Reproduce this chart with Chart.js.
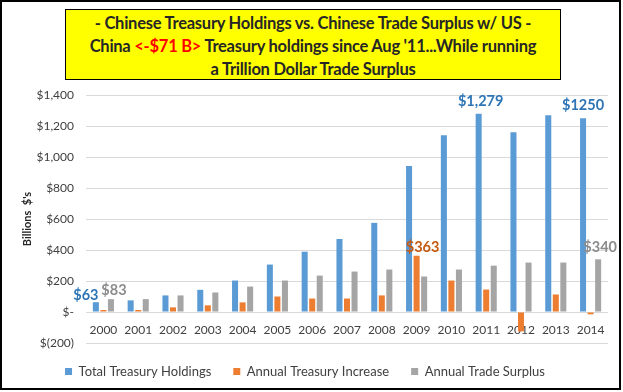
<!DOCTYPE html>
<html>
<head>
<meta charset="utf-8">
<script src="https://cdn.jsdelivr.net/npm/chart.js@4.4.1/dist/chart.umd.min.js"></script>
<style>
  html, body { margin: 0; padding: 0; background: #fff; }
  #frame { position: relative; width: 621px; height: 390px; box-sizing: border-box; border: 2px solid #000; overflow: hidden; }
  #chartBox { position: absolute; left: 0; top: 0; width: 617px; height: 386px; }
  #title {
    position: absolute; left: 63px; top: 7px; width: 496px; height: 71px; box-sizing: border-box;
    background: #ffff00; border: 1px solid #000; text-align: center;
    font: bold 16.5px Lato, sans-serif; letter-spacing: -0.25px; line-height: 23px; color: #262626; padding-top: 1.5px;
  }
  #title .red { color: #ff0000; }
</style>
</head>
<body>
<div id="frame">
  <div id="chartBox"><canvas id="c"></canvas></div>
  <div id="title">- Chinese Treasury Holdings vs. Chinese Trade Surplus w/ US -<br>China <span class="red">&lt;-$71 B&gt;</span> Treasury holdings since Aug '11...While running<br>a Trillion Dollar Trade Surplus</div>
</div>
<script>
const years = ['2000','2001','2002','2003','2004','2005','2006','2007','2008','2009','2010','2011','2012','2013','2014']
const totalHoldings = [63, 75, 107, 143, 203, 306, 389, 471, 575, 942, 1141, 1279, 1160, 1270, 1250]
const annualIncrease = [13, 13, 30, 43, 62, 100, 87, 87, 107, 363, 203, 145, -125, 113, -15]
const tradeSurplus = [83, 83, 107, 126, 164, 203, 235, 261, 274, 229, 274, 299, 319, 319, 340]

// value labels: [datasetIndex, dataIndex, text]
const valueLabels = [
  [0, 0, '$63'], [2, 0, '$83'], [1, 9, '$363'],
  [0, 11, '$1,279'], [0, 14, '$1250'], [2, 14, '$340'],
]
const labelStyle = [
  { color: '#2e75b6', dx: -10, dy: -7 },
  { color: '#c55a11', dx: 6, dy: -8 },
  { color: '#8c8c8c', dx: 3, dy: -9 },
]
const labelShift = { '$1,279': [2, -12], '$1250': [0, -13], '$340': [2, -12] }

const valueLabelPlugin = {
  id: 'valueLabels',
  afterDatasetsDraw(chart) {
    const ctx = chart.ctx
    ctx.save()
    ctx.font = 'bold 14.5px Lato, sans-serif'
    ctx.textAlign = 'center'
    ctx.textBaseline = 'middle'
    valueLabels.forEach(([ds, i, text]) => {
      const bar = chart.getDatasetMeta(ds).data[i]
      const st = labelStyle[ds]
      const [dx, dy] = labelShift[text] || [st.dx, st.dy]
      ctx.fillStyle = st.color
      ctx.fillText(text, bar.x + dx, bar.y + dy)
    })
    ctx.restore()
  },
}

const fmt = (v) => {
  if (v === 0) return '$-'
  if (v < 0) return '$(' + Math.abs(v).toLocaleString('en-US') + ')'
  return '$' + v.toLocaleString('en-US')
}

new Chart(document.getElementById('c'), {
  type: 'bar',
  data: {
    labels: years,
    datasets: [
      { label: 'Total Treasury Holdings', data: totalHoldings, backgroundColor: '#5b9bd5' },
      { label: 'Annual Treasury Increase', data: annualIncrease, backgroundColor: '#ed7d31' },
      { label: 'Annual Trade Surplus', data: tradeSurplus, backgroundColor: '#a5a5a5' },
    ],
  },
  options: {
    responsive: true,
    maintainAspectRatio: false,
    animation: false,
    categoryPercentage: 0.65,
    barPercentage: 0.8,
    layout: { padding: { top: 93, right: 11, left: 0, bottom: 0 } },
    plugins: {
      tooltip: { enabled: false },
      legend: {
        position: 'bottom',
        labels: {
          boxWidth: 7, boxHeight: 7, padding: 22,
          color: '#404040',
          font: { family: 'Lato', size: 13 },
        },
      },
    },
    scales: {
      x: {
        position: { y: 0 },
        grid: { display: false, drawTicks: false },
        border: { display: false },
        ticks: { color: '#404040', font: { family: 'Lato', size: 12 }, padding: 11, maxRotation: 0 },
      },
      y: {
        min: -200, max: 1400,
        afterFit: (s) => { s.width = 84 },
        grid: { color: '#d9d9d9', drawTicks: false },
        border: { display: false },
        ticks: { stepSize: 200, color: '#404040', font: { family: 'Lato', size: 12 }, padding: 12, callback: fmt },
        title: { display: true, text: "Billions  $'s", color: '#262626', font: { family: 'Lato', size: 11, weight: 'bold' }, padding: { top: 19, bottom: 0 } },
      },
    },
  },
  plugins: [valueLabelPlugin],
})
</script>
</body>
</html>
